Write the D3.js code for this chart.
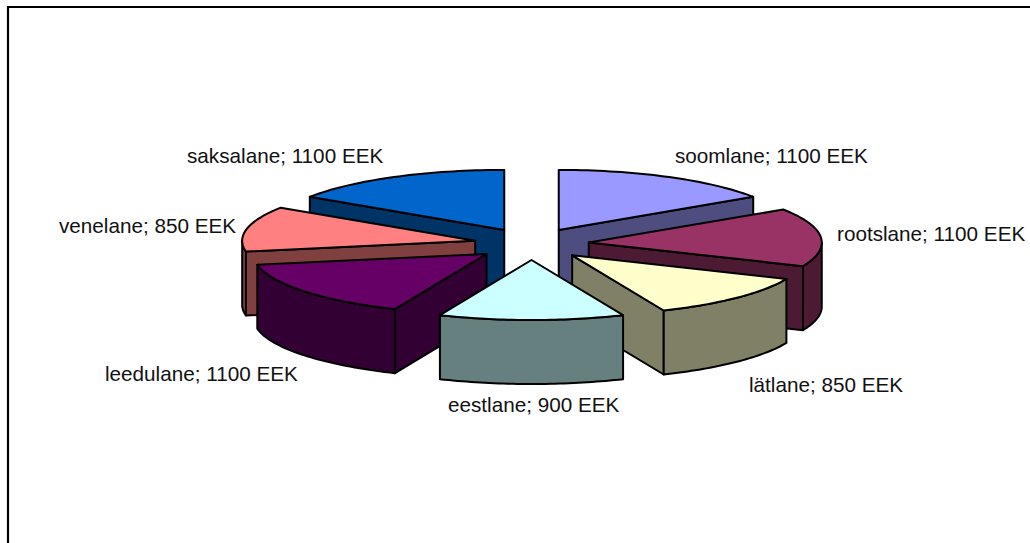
<!DOCTYPE html>
<html>
<head>
<meta charset="utf-8">
<script src="https://cdn.jsdelivr.net/npm/d3@7"></script>
<style>
  html, body { margin: 0; padding: 0; background: #fff; overflow: hidden; }
  svg { display: block; }
</style>
</head>
<body>
<div id="chart"></div>
<script>
const categories = ["soomlane", "rootslane", "lätlane", "eestlane", "leedulane", "venelane", "saksalane"];
const values = [1100, 1100, 850, 900, 1100, 850, 1100];
const unit = "EEK";
const topColors = ["#9999FF", "#993366", "#FFFFCC", "#CCFFFF", "#660066", "#FF8080", "#0066CC"];

// labels were placed by hand in the original, so x + baseline per slice
const labelX = [675, 837, 749, 448, 105, 59, 187];
const labelY = [163, 241, 392, 412, 381, 233, 163];

// back to front, the order the slices overlap in
const drawOrder = [0, 6, 1, 5, 2, 4, 3];

const width = 1030, height = 543;
const center = { x: 531.5, y: 244 };
const rx = 233, ry = 60;       // ellipse of the tilted pie
const explodeX = 57.5, explodeY = 16;
const depth = 64;

const svg = d3.select("#chart").append("svg")
    .attr("width", width)
    .attr("height", height)
    .attr("viewBox", `0 0 ${width} ${height}`);

// chart frame, only top and left fall inside the picture
svg.append("path")
    .attr("d", `M8,${height}V7H${width}`)
    .attr("fill", "none")
    .attr("stroke", "#000")
    .attr("stroke-width", 2.2);

const arcs = d3.pie().sort(null).startAngle(0).endAngle(2 * Math.PI)(values);

const line = d3.line().x(d => d[0]).y(d => d[1]);

function rimPoints(apex, a0, a1, dy = 0) {
    return d3.range(0, 41).map(i => {
        const a = a0 + (a1 - a0) * i / 40;
        return [apex.x + rx * Math.sin(a), apex.y - ry * Math.cos(a) + dy];
    });
}

const slices = arcs.map((arc, i) => {
    const mid = (arc.startAngle + arc.endAngle) / 2;
    const c = d3.rgb(topColors[i]);
    return {
        a0: arc.startAngle,
        a1: arc.endAngle,
        color: topColors[i],
        // side faces are the top colour at half brightness
        side: d3.rgb(c.r / 2, c.g / 2, c.b / 2).formatHex(),
        apex: {
            x: center.x + explodeX * Math.sin(mid),
            y: center.y - explodeY * Math.cos(mid)
        }
    };
});

const g = svg.append("g")
    .attr("stroke", "#000")
    .attr("stroke-width", 2)
    .attr("stroke-linejoin", "round");

drawOrder.forEach(i => {
    const s = slices[i];
    const slice = g.append("g").attr("class", "slice");
    const wall = pts => slice.append("path")
        .attr("d", line(pts) + "Z")
        .attr("fill", s.side);

    function radialWall(a) {
        const rim = rimPoints(s.apex, a, a, 0)[0];
        wall([[s.apex.x, s.apex.y], rim, [rim[0], rim[1] + depth], [s.apex.x, s.apex.y + depth]]);
    }
    if (Math.sin(s.a0) < -1e-6) radialWall(s.a0);
    if (Math.sin(s.a1) > 1e-6) radialWall(s.a1);

    // outer wall only where the rim faces the viewer
    const from = Math.max(s.a0, Math.PI / 2), to = Math.min(s.a1, 3 * Math.PI / 2);
    if (to > from) {
        const upper = rimPoints(s.apex, from, to);
        const lower = rimPoints(s.apex, from, to, depth).reverse();
        wall(upper.concat(lower));
    }

    slice.append("path")
        .attr("d", line([[s.apex.x, s.apex.y]].concat(rimPoints(s.apex, s.a0, s.a1))) + "Z")
        .attr("fill", s.color);
});

svg.append("g")
    .attr("font-family", "'Liberation Sans', Arial, sans-serif")
    .attr("font-size", 20.7)
    .attr("fill", "#111")
    .selectAll("text")
    .data(categories)
    .join("text")
    .attr("x", (d, i) => labelX[i])
    .attr("y", (d, i) => labelY[i])
    .text((d, i) => `${d}; ${values[i]} ${unit}`);
</script>
</body>
</html>
